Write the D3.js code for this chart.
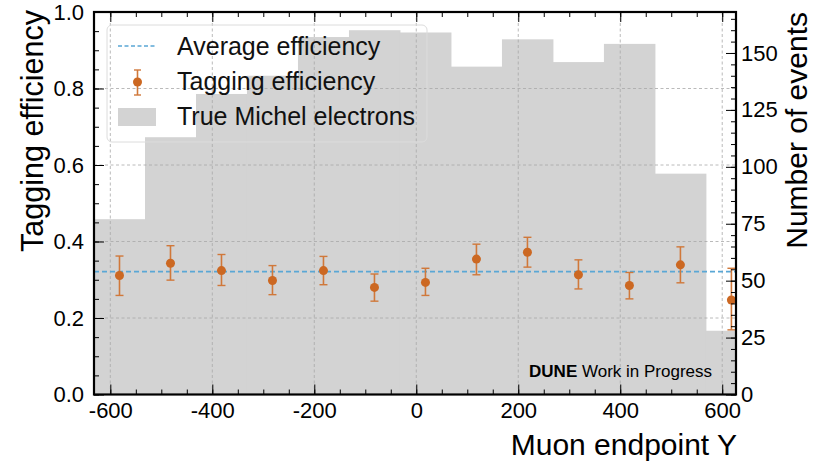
<!DOCTYPE html>
<html>
<head>
<meta charset="utf-8">
<script src="https://cdn.jsdelivr.net/npm/d3@7"></script>
<style>
  html, body { margin: 0; padding: 0; background: #fff; }
  svg { display: block; font-family: 'Liberation Sans', Arial, Helvetica, sans-serif; }
  .tick text { fill: #000; }
</style>
</head>
<body>
<div id="app"></div>
<script>
// bin centres of muon endpoint Y (bins are 100 wide)
const binCenters = [-582, -482, -382, -282, -182, -82, 18, 118, 218, 318, 418, 518, 618]
const binWidth = 100
// true Michel electrons per bin (right axis)
const trueCounts = [77, 113, 132, 140, 157, 160, 159, 144, 156, 146, 154, 97, 28]
// tagging efficiency with error bar bounds (left axis)
const efficiency = [0.311, 0.343, 0.324, 0.298, 0.324, 0.280, 0.293, 0.354, 0.372, 0.313, 0.285, 0.339, 0.247]
const effLow = [0.259, 0.299, 0.285, 0.261, 0.287, 0.244, 0.259, 0.313, 0.333, 0.276, 0.250, 0.292, 0.169]
const effHigh = [0.362, 0.389, 0.366, 0.337, 0.361, 0.315, 0.330, 0.393, 0.411, 0.352, 0.319, 0.386, 0.330]
const avgEfficiency = 0.321

const xTicks = [-600, -400, -200, 0, 200, 400, 600]
const xMinorTicks = d3.range(-600, 601, 50)
const yLeftTicks = [0, 0.2, 0.4, 0.6, 0.8, 1.0]
const yLeftMinor = d3.range(0, 1.001, 0.05)
const yRightTicks = [0, 25, 50, 75, 100, 125, 150]
const yRightMinor = d3.range(0, 168, 5)
const legendLabels = ['Average efficiency', 'Tagging efficiency', 'True Michel electrons']

const W = 821, H = 462
const pLeft = 94, pRight = 736, pTop = 12, pBottom = 394.5

const histColor = '#d3d3d3'
const pointColor = '#cc6822'
const errColor = '#d0783a'
const avgColor = '#5aa7d5'

const svg = d3.select('#app').append('svg').attr('width', W).attr('height', H)

const x = d3.scaleLinear().domain([-632, 627]).range([pLeft, pRight])
const yL = d3.scaleLinear().domain([0, 1]).range([pBottom, pTop])
const yR = d3.scaleLinear().domain([0, 168]).range([pBottom, pTop])

svg.append('clipPath').attr('id', 'plot')
  .append('rect').attr('x', pLeft).attr('y', pTop).attr('width', pRight - pLeft).attr('height', pBottom - pTop)

const plot = svg.append('g').attr('clip-path', 'url(#plot)')

// Histogram of true Michel electrons
plot.selectAll('.bin')
  .data(binCenters)
  .join('rect')
  .attr('class', 'bin')
  .attr('x', d => x(d - binWidth / 2))
  .attr('width', d => x(d + binWidth / 2) - x(d - binWidth / 2) + 0.5)
  .attr('y', (d, i) => yR(trueCounts[i]))
  .attr('height', (d, i) => pBottom - yR(trueCounts[i]))
  .attr('fill', histColor)

// Grid
plot.append('g').selectAll('line')
  .data(xTicks)
  .join('line')
  .attr('x1', d => x(d)).attr('x2', d => x(d))
  .attr('y1', pTop).attr('y2', pBottom)
  .attr('stroke', '#a8a8a8').attr('stroke-width', 0.8).attr('stroke-dasharray', '3,2.5')
plot.append('g').selectAll('line')
  .data(yLeftTicks.slice(1, -1))
  .join('line')
  .attr('x1', pLeft).attr('x2', pRight)
  .attr('y1', d => yL(d)).attr('y2', d => yL(d))
  .attr('stroke', '#a8a8a8').attr('stroke-width', 0.8).attr('stroke-dasharray', '3,2.5')

// Average efficiency
plot.append('line')
  .attr('x1', pLeft).attr('x2', pRight)
  .attr('y1', yL(avgEfficiency)).attr('y2', yL(avgEfficiency))
  .attr('stroke', avgColor).attr('stroke-width', 1.8).attr('stroke-dasharray', '5,3')

// Error bars and points
const pts = svg.append('g').selectAll('g')
  .data(binCenters)
  .join('g')
  .attr('transform', d => `translate(${x(d)},0)`)
pts.append('line')
  .attr('y1', (d, i) => yL(effLow[i])).attr('y2', (d, i) => yL(effHigh[i]))
  .attr('stroke', errColor).attr('stroke-width', 1.6)
pts.append('line')
  .attr('x1', -4).attr('x2', 4)
  .attr('y1', (d, i) => yL(effHigh[i])).attr('y2', (d, i) => yL(effHigh[i]))
  .attr('stroke', errColor).attr('stroke-width', 1.4)
pts.append('line')
  .attr('x1', -4).attr('x2', 4)
  .attr('y1', (d, i) => yL(effLow[i])).attr('y2', (d, i) => yL(effLow[i]))
  .attr('stroke', errColor).attr('stroke-width', 1.4)
pts.append('circle')
  .attr('cy', (d, i) => yL(efficiency[i]))
  .attr('r', 4.5)
  .attr('fill', pointColor)

// Legend
const leg = svg.append('g').attr('transform', 'translate(107,25)')
leg.append('rect')
  .attr('width', 320).attr('height', 117).attr('rx', 5)
  .attr('fill', 'none').attr('stroke', '#dcdcdc').attr('stroke-width', 1)
leg.append('line')
  .attr('x1', 11).attr('x2', 48).attr('y1', 21).attr('y2', 21)
  .attr('stroke', avgColor).attr('stroke-width', 1.6).attr('stroke-dasharray', '4,2.5')
leg.append('line').attr('x1', 30.5).attr('x2', 30.5).attr('y1', 45).attr('y2', 70)
  .attr('stroke', errColor).attr('stroke-width', 1.6)
leg.append('line').attr('x1', 27).attr('x2', 34).attr('y1', 45).attr('y2', 45)
  .attr('stroke', errColor).attr('stroke-width', 1.4)
leg.append('line').attr('x1', 27).attr('x2', 34).attr('y1', 70).attr('y2', 70)
  .attr('stroke', errColor).attr('stroke-width', 1.4)
leg.append('circle').attr('cx', 30.5).attr('cy', 57).attr('r', 4.5).attr('fill', pointColor)
leg.append('rect').attr('x', 11).attr('y', 83).attr('width', 38).attr('height', 18).attr('fill', histColor)
leg.selectAll('text')
  .data(legendLabels)
  .join('text')
  .attr('x', 70)
  .attr('y', (d, i) => 30 + i * 35)
  .attr('font-size', 25)
  .attr('fill', '#111')
  .text(d => d)

// Axes (ticks inward)
const plainNum = d => String(d)
const bottomAx = svg.append('g').attr('transform', `translate(0,${pBottom})`)
  .call(d3.axisBottom(x).tickValues(xTicks).tickSize(-10).tickPadding(8).tickFormat(plainNum))
bottomAx.selectAll('text').attr('font-size', 22)
svg.append('g').attr('transform', `translate(0,${pBottom})`)
  .call(d3.axisBottom(x).tickValues(xMinorTicks).tickSize(-5).tickFormat(''))
svg.append('g').attr('transform', `translate(0,${pTop})`)
  .call(d3.axisTop(x).tickValues(xTicks).tickSize(-10).tickFormat(''))
svg.append('g').attr('transform', `translate(0,${pTop})`)
  .call(d3.axisTop(x).tickValues(xMinorTicks).tickSize(-5).tickFormat(''))

const leftAx = svg.append('g').attr('transform', `translate(${pLeft},0)`)
  .call(d3.axisLeft(yL).tickValues(yLeftTicks).tickSize(-10).tickPadding(10).tickFormat(d3.format('.1f')))
leftAx.selectAll('text').attr('font-size', 22)
svg.append('g').attr('transform', `translate(${pLeft},0)`)
  .call(d3.axisLeft(yL).tickValues(yLeftMinor).tickSize(-5).tickFormat(''))

const rightAx = svg.append('g').attr('transform', `translate(${pRight},0)`)
  .call(d3.axisRight(yR).tickValues(yRightTicks).tickSize(-10).tickPadding(5))
rightAx.selectAll('text').attr('font-size', 22)
svg.append('g').attr('transform', `translate(${pRight},0)`)
  .call(d3.axisRight(yR).tickValues(yRightMinor).tickSize(-5).tickFormat(''))

svg.selectAll('.domain').remove()
svg.selectAll('.tick line').attr('stroke', '#000').attr('stroke-width', 1)

// Frame
svg.append('rect')
  .attr('x', pLeft).attr('y', pTop).attr('width', pRight - pLeft).attr('height', pBottom - pTop)
  .attr('fill', 'none').attr('stroke', '#000').attr('stroke-width', 2.2)

// Labels
svg.append('text')
  .attr('transform', `translate(43,${pTop - 2}) rotate(-90)`)
  .attr('text-anchor', 'end')
  .attr('font-size', 30.5)
  .text('Tagging efficiency')
svg.append('text')
  .attr('transform', `translate(807,${pTop}) rotate(-90)`)
  .attr('text-anchor', 'end')
  .attr('font-size', 30)
  .text('Number of events')
svg.append('text')
  .attr('x', pRight + 1).attr('y', 455)
  .attr('text-anchor', 'end')
  .attr('font-size', 30)
  .text('Muon endpoint Y')

const tag = svg.append('text')
  .attr('x', 712).attr('y', 377)
  .attr('text-anchor', 'end')
  .attr('font-size', 17)
tag.append('tspan').attr('font-weight', 'bold').text('DUNE')
tag.append('tspan').text(' Work in Progress')
</script>
</body>
</html>
